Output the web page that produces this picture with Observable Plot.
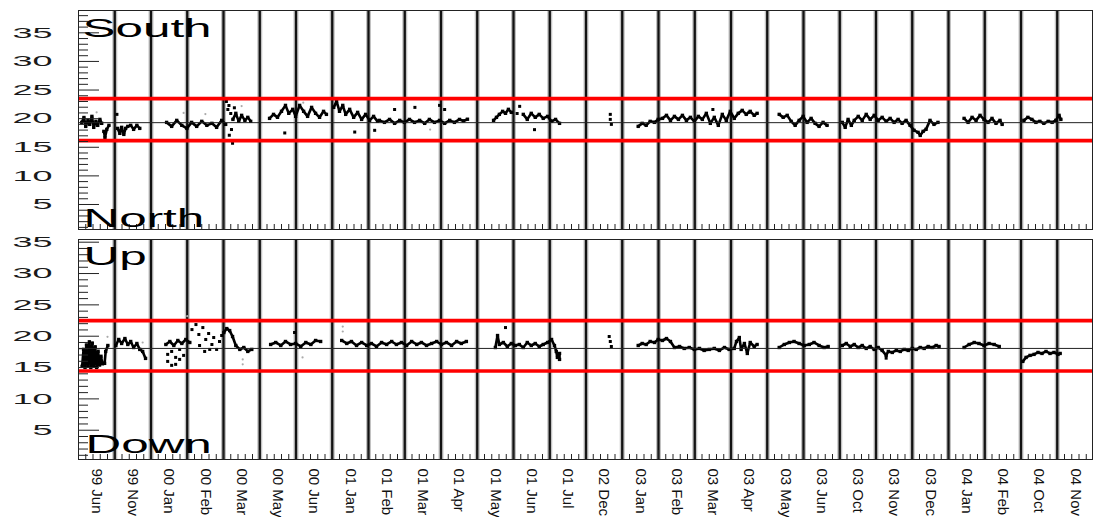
<!DOCTYPE html>
<html><head><meta charset="utf-8">
<script src="https://cdn.jsdelivr.net/npm/d3@7"></script>
<script src="https://cdn.jsdelivr.net/npm/@observablehq/plot@0.6"></script>
<style>
html,body{margin:0;padding:0;background:#fff;}
#chart{width:1093px;}
#chart svg{display:block;}
</style></head><body><div id="chart"></div>
<script>
// Month bins (x-axis tick labels, one per bin)
const months = ["99 Jun","99 Nov","00 Jan","00 Feb","00 Mar","00 May","00 Jun","01 Jan","01 Feb","01 Mar","01 Apr","01 May","01 Jun","01 Jul","02 Dec","03 Jan","03 Feb","03 Mar","03 Apr","03 May","03 Jun","03 Oct","03 Nov","03 Dec","04 Jan","04 Feb","04 Oct","04 Nov"];
const yTickValues = [5, 10, 15, 20, 25, 30, 35];

// Top panel (South / North): traces, x in bin units, null = gap
const southX = [
0.09,0.15,0.20,0.26,0.31,0.37,0.42,0.48,0.53,0.59,0.64,null,
0.70,0.73,0.78,0.84,null,
1.08,1.14,1.19,1.25,1.30,1.36,1.44,1.52,1.61,1.69,null,
2.43,2.57,2.71,2.85,2.99,3.12,3.26,3.40,3.54,3.68,3.81,3.95,4.06,null,
4.26,4.34,4.42,4.50,4.59,4.67,4.75,null,
5.27,5.38,5.49,5.60,5.71,5.80,5.91,5.99,6.10,6.21,6.32,6.43,6.54,6.65,6.76,6.84,null,
7.04,7.12,7.20,7.29,7.37,7.48,7.59,7.70,7.81,7.92,8.03,8.14,8.25,
8.30,8.44,8.58,8.72,8.86,8.99,9.13,9.27,9.41,9.55,9.68,9.82,9.96,10.10,10.24,10.37,10.51,10.62,10.73,null,
11.45,11.53,11.61,11.70,11.78,11.86,11.94,null,
12.27,12.38,12.49,12.60,12.71,12.82,12.94,13.05,13.16,13.27,null,
15.44,15.55,15.66,15.77,15.89,15.99,16.11,16.22,16.33,16.44,16.55,16.66,16.77,16.88,16.99,17.10,17.21,17.32,17.43,17.54,17.65,17.76,17.87,17.98,18.09,18.20,18.31,18.42,18.53,18.64,18.72,null,
19.33,19.44,19.55,19.66,19.77,19.88,19.99,20.10,20.21,20.32,20.43,20.54,20.65,null,
21.07,21.15,21.23,21.32,21.40,21.51,21.62,21.73,21.84,21.95,22.06,22.17,22.28,22.39,22.50,22.61,22.72,22.83,22.94,23.05,23.16,23.22,23.30,23.38,23.49,23.60,23.71,null,
24.43,24.54,24.65,24.76,24.87,24.98,25.09,25.20,25.31,25.42,25.48,null,
26.08,26.19,26.30,26.41,26.52,26.63,26.75,26.86,26.96,27.05,27.10];
const southY = [
19.35,20.2,18.65,19.7,19.0,20.4,18.48,19.53,18.83,19.87,19.18,null,
17.78,16.73,18.13,18.83,null,
18.3,17.43,18.48,17.25,18.3,18.65,18.83,18.13,18.83,18.3,null,
19.35,18.65,19.7,18.83,18.3,19.35,18.65,19.53,18.83,19.18,18.48,19.7,19.0,null,
19.87,20.93,19.53,20.58,19.7,20.23,19.53,null,
20.05,20.75,20.23,21.28,22.32,20.93,21.63,20.4,22.32,21.28,20.4,21.97,20.93,20.23,21.28,20.75,null,
21.97,23.02,21.28,22.32,20.75,21.63,20.23,21.1,19.87,20.75,19.7,20.4,19.53,
19.7,19.35,19.87,19.18,19.7,19.35,19.87,19.35,19.7,19.18,19.87,19.35,19.7,19.18,19.7,19.35,19.87,19.6,19.9,null,
19.7,20.23,20.75,21.28,20.93,21.63,21.1,null,
20.75,19.87,20.93,20.23,20.75,20.05,20.4,19.53,19.87,19.18,null,
18.65,19.18,18.83,19.53,19.35,19.87,20.05,20.58,19.7,20.4,19.87,20.58,19.7,20.23,19.53,20.4,19.87,20.93,19.18,20.23,18.83,20.75,19.7,21.28,20.05,20.93,21.45,20.75,21.28,20.58,20.93,null,
20.75,20.23,20.58,19.53,18.83,19.7,20.4,19.35,20.05,19.18,18.65,19.35,18.83,null,
19.35,18.48,19.87,18.83,19.7,20.4,19.7,20.75,19.87,20.58,19.7,20.23,19.53,20.05,19.35,19.87,19.18,19.7,18.83,17.96,17.61,17.07,17.78,18.13,19.7,19.0,19.35,null,
20.05,19.35,20.23,19.7,20.58,19.87,19.35,20.05,19.18,19.7,19.0,null,
19.7,20.23,19.87,19.35,19.53,19.18,19.53,19.35,19.7,20.58,19.87];
const southDotX = [1.06,4.08,4.15,4.12,4.20,4.22,4.16,4.25,4.30,5.69,7.62,8.17,9.28,9.96,10.10,8.72,12.17,12.10,12.58,14.67,14.67,14.70,18.50,17.50];
const southDotY = [20.75,23.0,22.3,21.6,20.9,18.1,17.1,15.7,21.9,17.5,17.66,17.96,21.97,22.32,21.6,21.6,22.15,20.9,18.08,20.75,19.87,19.0,21.1,21.6];
const southFaintX = [2.9,3.5,6.2,9.7,4.5,0.5];
const southFaintY = [21.0,20.8,22.8,18.1,22.2,21.1];
const southLimits = [16.15, 23.5];
const southMean = 19.3;

// Bottom panel (Up / Down)
const upX = [
0.10,0.14,0.18,0.22,0.26,0.30,0.34,0.38,0.42,0.46,0.50,0.54,0.58,0.62,0.66,null,
0.72,0.75,0.81,null,
1.03,1.11,1.19,1.28,1.36,1.44,1.52,1.61,1.69,1.77,1.85,null,
2.41,2.52,2.63,2.74,2.85,2.96,3.07,null,
4.01,4.09,4.17,4.25,4.34,4.45,4.56,4.67,4.78,null,
5.30,5.44,5.58,5.71,5.85,5.99,6.13,6.27,6.41,6.54,6.68,null,
7.26,7.40,7.53,7.67,7.81,7.95,8.08,8.22,8.36,8.50,8.64,8.77,8.91,9.05,9.19,9.33,9.46,9.60,9.74,9.88,10.01,10.15,10.29,10.43,10.56,10.70,null,
11.50,11.56,11.61,11.72,11.83,11.94,12.05,12.16,12.27,12.38,12.49,12.60,12.71,12.82,12.94,13.05,13.13,13.18,13.21,13.27,13.27,null,
15.44,15.55,15.66,15.77,15.89,15.99,16.11,16.22,16.33,16.44,16.58,16.71,16.85,16.99,17.13,17.26,17.40,17.54,17.68,17.82,17.95,18.09,18.15,18.23,18.28,18.37,18.45,18.53,18.64,18.72,null,
19.33,19.47,19.61,19.74,19.88,20.02,20.16,20.29,20.43,20.57,20.68,null,
21.07,21.18,21.29,21.40,21.51,21.62,21.73,21.84,21.95,22.06,22.17,22.28,22.34,22.45,22.56,22.67,22.78,22.89,23.00,23.11,23.22,23.33,23.44,23.55,23.66,23.74,null,
24.43,24.57,24.71,24.84,24.98,25.12,25.26,25.40,null,
26.05,26.14,26.25,26.36,26.47,26.58,26.69,26.80,26.91,27.02,27.08];
const upY = [
15.2,17.9,15.0,18.6,15.3,19.1,15.0,18.9,15.3,18.3,15.0,17.6,15.4,16.8,15.6,null,
15.67,17.57,18.52,null,
18.52,19.48,18.84,19.63,18.68,19.16,18.2,18.84,17.89,17.57,16.46,null,
18.68,19.16,18.52,19.32,18.84,19.48,19.0,null,
20.59,21.22,20.9,19.95,18.52,17.89,18.2,17.57,17.89,null,
18.68,19.0,18.52,19.16,18.68,18.84,18.36,19.0,18.68,19.32,19.16,null,
19.32,18.84,19.16,18.52,19.0,18.52,18.84,18.36,19.0,18.68,19.16,18.68,19.0,18.52,19.16,18.68,19.0,18.52,18.84,19.16,18.68,19.0,18.52,19.16,18.84,19.16,null,
18.2,20.11,18.68,19.0,18.36,18.84,18.52,18.68,18.2,19.0,18.52,18.84,18.36,18.68,19.0,19.48,18.52,17.57,16.62,17.25,16.3,null,
18.52,18.84,18.68,19.16,19.0,19.48,19.32,19.63,19.16,18.2,18.36,18.05,18.2,17.89,18.05,17.73,17.89,18.05,17.73,18.2,17.89,18.05,19.16,19.79,17.89,18.84,17.25,19.0,18.36,18.68,null,
18.2,18.68,19.0,19.16,18.84,18.52,18.68,19.0,18.52,18.2,18.36,null,
18.52,18.84,18.36,18.68,18.2,18.52,18.05,18.36,17.89,18.2,17.73,16.94,17.57,17.41,17.73,17.57,17.89,17.73,18.05,17.89,18.2,18.05,18.36,18.2,18.52,18.36,null,
18.2,18.68,19.0,18.84,18.52,18.84,18.68,18.36,null,
15.98,16.62,16.94,17.1,17.41,17.25,17.57,17.25,17.41,17.1,17.25];
const upDotX = [2.46,2.46,2.57,2.57,2.68,2.68,2.79,2.79,2.90,3.13,3.24,3.32,3.43,3.51,3.59,3.68,3.73,3.81,3.48,3.34,3.62,3.89,3.95,11.78,14.64,14.67,14.70,5.96,22.28];
const upDotY = [17.1,15.98,17.57,15.35,16.62,15.51,17.89,16.3,16.94,21.06,21.86,20.27,21.38,19.48,20.43,18.68,19.79,17.89,17.57,18.52,17.89,19.16,20.11,21.38,19.95,19.16,18.36,20.59,16.5];
const upFaintX = [4.53,4.53,6.18,7.29,7.29,3.16,1.77,0.80,3.0];
const upFaintY = [16.3,15.51,16.62,21.54,20.75,22.5,19.0,19.9,23.2];
const upLimits = [14.45, 22.5];
const upMean = 18.05;

const W = 1093;
const ML = 78;
const font = "'Liberation Sans', Arial, Helvetica, sans-serif";
const edges = d3.range(1, months.length);
const centers = months.map((m, i) => i + 0.5);
const minorX = d3.range(1, months.length * 5).filter(k => k % 5 !== 0).map(k => k / 5);

// horizontally widen text (ROOT-like wide glyphs); keeps the anchor in place
function stretch(svg, selector, sx) {
  d3.select(svg).selectAll(selector).each(function () {
    const el = d3.select(this);
    const t = el.attr("transform") || "";
    el.attr("transform", `${t} scale(${sx},1)`);
  });
}

function panel(o) {
  const innerW = W - ML;
  const innerH = o.height - o.marginTop - o.marginBottom;
  const yMinor = d3.range(Math.ceil(o.yDomain[0]), Math.floor(o.yDomain[1]) + 1).filter(v => v % 5 !== 0);
  const marks = [
    Plot.ruleX(edges, {x: d => d, stroke: "#777", strokeWidth: 5, strokeOpacity: 0.45}),
    Plot.ruleX(edges, {x: d => d, stroke: "#111", strokeWidth: 2.3}),
    Plot.dot(o.FX, {x: o.FX, y: o.FY, r: 1.1, fill: "#aaa", stroke: null}),
    Plot.line(o.X, {x: o.X, y: o.Y, stroke: "#000", strokeWidth: 2.6, strokeLinejoin: "round", strokeLinecap: "round"}),
    Plot.dot(o.X, {x: o.X, y: o.Y, r: 1.9, symbol: "square", fill: "#000", stroke: null}),
    Plot.dot(o.DX, {x: o.DX, y: o.DY, r: 1.7, symbol: "square", fill: "#000", stroke: null}),
    Plot.ruleY([o.mean], {y: d => d, stroke: "#222", strokeWidth: 1}),
    Plot.ruleY(o.lims, {y: d => d, stroke: "#ff0000", strokeWidth: 3.7}),
    Plot.tickY(yMinor, {y: d => d, stroke: "#222", insetRight: innerW - 10}),
    Plot.tickY(yTickValues, {y: d => d, stroke: "#222", insetRight: innerW - 21}),
    Plot.tickX(minorX, {x: d => d, stroke: "#222", insetTop: innerH - 5}),
    Plot.tickX(edges, {x: d => d, stroke: "#222", insetTop: innerH - 9}),
    Plot.frame({stroke: "#222", strokeWidth: 1, insetRight: 1}),
    Plot.axisY({ticks: yTickValues, tickSize: 0, tickPadding: 26, fontSize: 15, label: null, fill: "#1a1a1a"}),
    Plot.text([o.topLabel], {text: d => d, frameAnchor: "top-left", textAnchor: "start", lineAnchor: "top", dx: o.topDx, dy: o.topDy, fontSize: 26, fill: "#000"}),
    Plot.text([o.bottomLabel], {text: d => d, frameAnchor: "bottom-left", textAnchor: "start", lineAnchor: "bottom", dx: o.botDx, dy: o.botDy, fontSize: 26, fill: "#000"})
  ];
  if (o.showX) {
    marks.push(Plot.axisX({ticks: centers, tickFormat: d => months[Math.floor(d)], tickRotate: 90, tickSize: 0, tickPadding: 9, fontSize: 15, label: null, fill: "#111"}));
  }
  const svg = Plot.plot({
    width: W, height: o.height,
    marginLeft: ML, marginRight: 0, marginTop: o.marginTop, marginBottom: o.marginBottom,
    style: {fontFamily: font, background: "#fff", overflow: "visible"},
    x: {domain: [0, months.length], axis: null},
    y: {domain: o.yDomain, axis: null},
    marks
  });
  stretch(svg, 'g[aria-label="y-axis tick label"] text', 2.4);
  stretch(svg, 'g[aria-label="text"] text', 1.9);
  return svg;
}

const topPanel = panel({
  X: southX, Y: southY, DX: southDotX, DY: southDotY, FX: southFaintX, FY: southFaintY,
  lims: southLimits, mean: southMean, yDomain: [0.63, 38.9],
  height: 230, marginTop: 10, marginBottom: 1,
  topLabel: "South", bottomLabel: "North", topDx: 4, topDy: 8, botDx: 5, botDy: -2.5, showX: false
});
const bottomPanel = panel({
  X: upX, Y: upY, DX: upDotX, DY: upDotY, FX: upFaintX, FY: upFaintY,
  lims: upLimits, mean: upMean, yDomain: [0.33, 35.43],
  height: 287, marginTop: 9, marginBottom: 58,
  topLabel: "Up", bottomLabel: "Down", topDx: 5, topDy: 7.5, botDx: 7, botDy: -6.5, showX: true
});
document.getElementById("chart").append(topPanel, bottomPanel);
</script>
</body></html>
